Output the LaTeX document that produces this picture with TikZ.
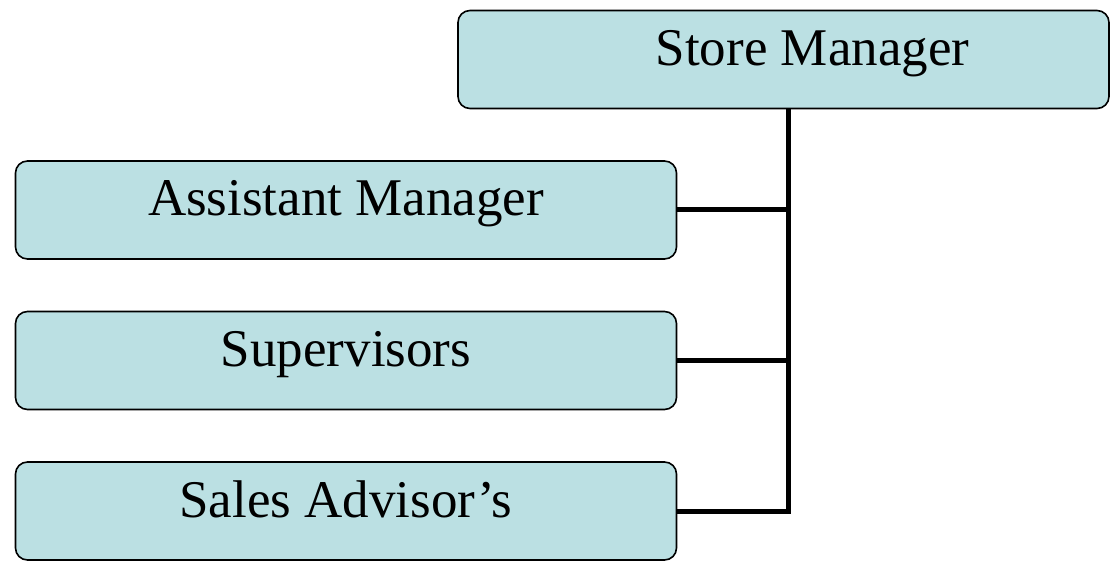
\documentclass[tikz,border=0pt]{standalone}
\usepackage{fontspec}
\setmainfont{Liberation Serif}
\usepackage{tikz}
\usepackage{xcolor}
\definecolor{paleteal}{RGB}{187, 224, 227}

\begin{document}
\begin{tikzpicture}[x=1pt, y=-1pt,
    rolebox/.style={draw, line width=1.6pt, fill=paleteal, rounded corners=12pt,
        minimum height=98pt, inner sep=0pt, text height=36pt, text depth=24pt,
        font=\fontsize{53}{60}\selectfont},
    link/.style={line width=5pt}]
    % Frame
    \useasboundingbox (0,0) rectangle (1110,561);

    % Parameters
    \def\trunk{788} % x of the vertical line

    % Top box
    \node[rolebox, minimum width=651pt] (sm) at (783.5,59.5) {\hspace*{58pt}Store Manager};

    % Lower boxes
    \foreach \name/\txt/\y in {am/Assistant Manager/210, sv/Supervisors/360.5, sa/Sales Advisor's/511} {
        \node[rolebox, minimum width=661pt] (\name) at (346,\y) {\txt};
    }

    % Connectors
    \coordinate (top) at (\trunk,109);
    \draw[link] (top) |- (sa.east);
    \draw[link] (am.east) -- (am.east -| top);
    \draw[link] (sv.east) -- (sv.east -| top);
\end{tikzpicture}
\end{document}
